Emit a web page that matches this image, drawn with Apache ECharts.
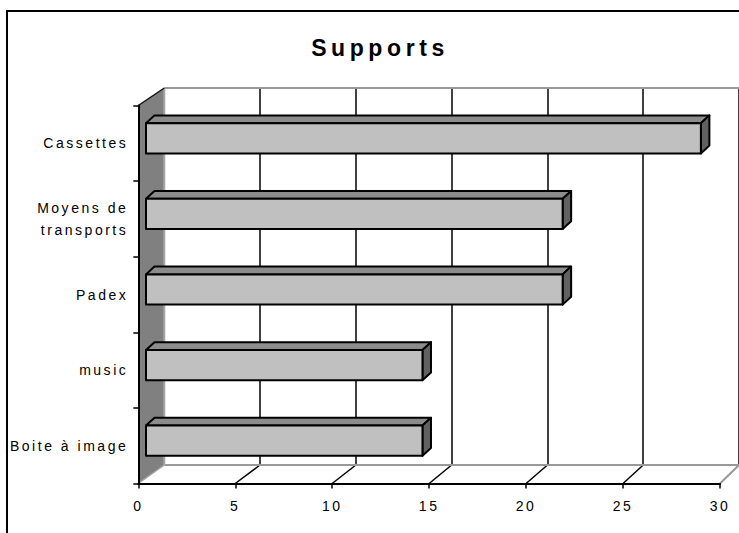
<!DOCTYPE html>
<html><head><meta charset="utf-8">
<script src="https://cdn.jsdelivr.net/npm/echarts@6/dist/echarts.min.js"></script>
<style>
html,body{margin:0;padding:0;background:#fff;}
#chart{width:739px;height:533px;}
#chart text{letter-spacing:0.18em;}
#chart text[style*="bold"]{letter-spacing:0.2em;}
</style></head><body><div id="chart"></div>
<script>
// ---- data ----
const categories = ['Cassettes', 'Moyens de\ntransports', 'Padex', 'music', 'Boite à image'];
const values = [28.9, 21.7, 21.7, 14.4, 14.4];
const xMin = 0, xMax = 30, xStep = 5;
const titleText = 'Supports';

// ---- style ----
const FONT = '"Liberation Sans", Arial, sans-serif';
const DEPTH = [8.5, -7.8];
const BAR_FRAC = 0.4;

const chart = echarts.init(document.getElementById('chart'), null, {renderer: 'svg'});

function renderBar(params, api) {
  const v = api.value(0), c = api.value(1);
  const p0 = api.coord([xMin, c]);
  const p1 = api.coord([v, c]);
  const h = api.size([0, 1])[1] * BAR_FRAC;
  const x0 = p0[0], x1 = p1[0], yt = p1[1] - h / 2, yb = p1[1] + h / 2;
  const dx = DEPTH[0], dy = DEPTH[1];
  const st = (fill) => ({fill: fill, stroke: '#000', lineWidth: 2, lineJoin: 'round'});
  return {type: 'group', children: [
    {type: 'polygon', shape: {points: [[x0, yt], [x1, yt], [x1 + dx, yt + dy], [x0 + dx, yt + dy]]}, style: st('#8c8c8c')},
    {type: 'polygon', shape: {points: [[x1, yt], [x1 + dx, yt + dy], [x1 + dx, yb + dy], [x1, yb]]}, style: st('#616161')},
    {type: 'rect', shape: {x: x0, y: yt, width: x1 - x0, height: h}, style: st('#c0c0c0')}
  ]};
}

const labelStyle = {color: '#000', fontFamily: FONT, fontSize: 14};

chart.setOption({
  animation: false,
  backgroundColor: '#fff',
  title: {
    text: titleText, left: 375, top: 31, textAlign: 'center',
    textStyle: {fontFamily: FONT, fontSize: 23, fontWeight: 'bold', color: '#000'}
  },
  grid: [
    {left: 164.3, top: 88, width: 580, height: 377},        // back wall plane
    {left: 138.3, top: 105.5, width: 581.7, height: 378},   // front plane (axes)
    {left: 146, top: 100.5, width: 576, height: 378}        // bar plane
  ],
  xAxis: [
    {gridIndex: 0, type: 'value', min: xMin, max: xMax, interval: xStep,
     axisLine: {show: false}, axisTick: {show: false}, axisLabel: {show: false},
     splitLine: {show: true, showMinLine: false, lineStyle: {color: '#000', width: 1.5}}},
    {gridIndex: 1, type: 'value', min: xMin, max: xMax, interval: xStep, z: 5,
     axisLine: {show: true, lineStyle: {color: '#000', width: 2}},
     axisTick: {show: true, length: 5, lineStyle: {color: '#000', width: 1.5}},
     axisLabel: Object.assign({margin: 15}, labelStyle),
     splitLine: {show: false}},
    {gridIndex: 2, type: 'value', min: xMin, max: xMax, show: false, splitLine: {show: false}}
  ],
  yAxis: [
    {gridIndex: 0, type: 'value', min: 0, max: 1, show: false, splitLine: {show: false}},
    {gridIndex: 1, type: 'category', data: categories, inverse: true, z: 5,
     axisLine: {show: true, lineStyle: {color: '#000', width: 2}},
     axisTick: {show: true, length: 5, lineStyle: {color: '#000', width: 1.5}},
     axisLabel: Object.assign({margin: 10, lineHeight: 22}, labelStyle),
     splitLine: {show: false}},
    {gridIndex: 2, type: 'category', data: categories, inverse: true, show: false},
    {gridIndex: 1, type: 'value', min: 0, max: 1, show: false, splitLine: {show: false}}
  ],
  series: [{
    type: 'custom', name: 'Supports', xAxisIndex: 2, yAxisIndex: 2,
    data: values.map((v, i) => [v, i]), encode: {x: 0, y: 1},
    renderItem: renderBar, clip: false, z: 3, silent: true
  }]
});

// ---- 3D walls/floor from the axes' own scales ----
const B = (x, y) => chart.convertToPixel({xAxisIndex: 0, yAxisIndex: 0}, [x, y]);
const F = (x, y) => chart.convertToPixel({xAxisIndex: 1, yAxisIndex: 3}, [x, y]);
const g = [];
g.push({type: 'polygon', z: 1, shape: {points: [F(xMin, 0), F(xMax, 0), B(xMax, 0), B(xMin, 0)]}, style: {fill: '#fff'}});
for (let t = xMin + xStep; t <= xMax; t += xStep) {
  const a = F(t, 0), b = B(t, 0);
  const last = t === xMax;
  g.push({type: 'line', z: 1, shape: {x1: a[0], y1: a[1], x2: b[0], y2: b[1]},
          style: {stroke: last ? '#999' : '#000', lineWidth: last ? 2 : 1.5}});
}
[[B(xMin, 0), B(xMax, 0)], [B(xMin, 1), B(xMax, 1)]].forEach(([a, b]) => {
  g.push({type: 'line', z: 1, shape: {x1: a[0], y1: a[1], x2: b[0], y2: b[1]}, style: {stroke: '#999', lineWidth: 2}});
});
g.push({type: 'polygon', z: 2, shape: {points: [F(xMin, 1), B(xMin, 1), B(xMin, 0), F(xMin, 0)]}, style: {fill: '#808080'}});
(function () {
  const ft = F(xMin, 1), bt = B(xMin, 1), bb = B(xMin, 0), fb = F(xMin, 0);
  g.push({type: 'line', z: 2, shape: {x1: bt[0], y1: bt[1], x2: bb[0], y2: bb[1]}, style: {stroke: '#a6a6a6', lineWidth: 2}});
  g.push({type: 'line', z: 2, shape: {x1: fb[0], y1: fb[1], x2: bb[0], y2: bb[1]}, style: {stroke: '#a6a6a6', lineWidth: 1.5}});
  g.push({type: 'line', z: 2, shape: {x1: ft[0], y1: ft[1], x2: bt[0], y2: bt[1]}, style: {stroke: '#111', lineWidth: 1.5}});
})();
g.push({type: 'rect', z: 6, shape: {x: 7, y: 11, width: 800, height: 600}, style: {fill: 'none', stroke: '#000', lineWidth: 2}});
chart.setOption({graphic: {elements: g}});
</script></body></html>
